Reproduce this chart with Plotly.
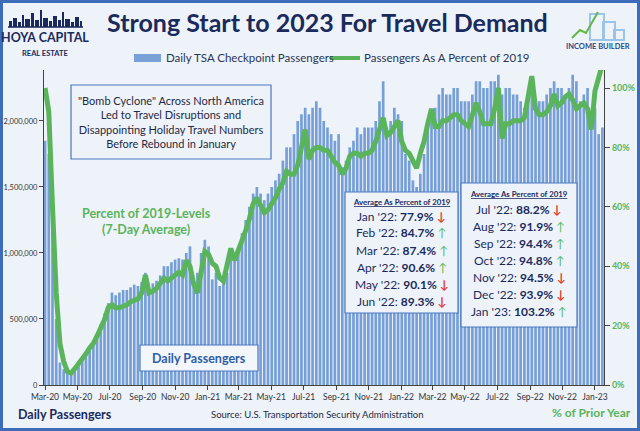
import plotly.graph_objects as go
import pandas as pd

# ---------------- data ----------------
week_dates = pd.date_range("2020-03-01", periods=151, freq="7D")

# Daily TSA checkpoint passengers (weekly readings, thousands)
passengers_k = [
    # 2020 Mar-Dec
    1850, 1750, 1250, 500, 170, 120, 95, 100, 125,
    160, 190, 230, 290, 320,
    380, 460, 540, 620,
    700, 680, 700, 720,
    720, 740, 760, 750, 780,
    850, 730, 770, 790,
    830, 900, 900, 930,
    950, 960, 950, 1000, 1050,
    800, 850, 1000, 1100,
    # 2021
    1050, 800, 850, 750, 800,
    850, 1000, 950, 1050,
    1150, 1250, 1350, 1450,
    1500, 1450, 1400, 1450,
    1500, 1550, 1600, 1700, 1800,
    1800, 1900, 2000, 2050,
    2100, 2050, 2100, 2150,
    2100, 2000, 1950, 1900, 1850,
    1900, 1650, 1700, 1800,
    1850, 1950, 1900, 1950, 1950,
    1950, 2000, 2150, 2300,
    1950, 2000, 2100, 2050,
    # 2022
    2000, 1750, 1700, 1550, 1500,
    1600, 1750, 2000, 2050,
    2100, 2200, 2250, 2200,
    2200, 2250, 2250, 2150,
    2150, 2150, 2200, 2300, 2300,
    2250, 2250, 2300, 2300,
    2350, 2200, 2250, 2250, 2200,
    2200, 2150, 2100, 2150,
    2250, 2100, 2150, 2150,
    2200, 2250, 2300, 2250, 2250,
    2200, 2250, 2350, 2300,
    2150, 2200, 2250, 2050,
    # 2023
    2100, 1900, 1950,
]

# Passengers as a percent of 2019 (7-day average, weekly readings)
pct_of_2019 = [
    # 2020
    100, 92, 60, 31, 14, 8, 4.5, 4, 5.5,
    7, 8.5, 10.5, 12.5, 14,
    16.5, 19, 22, 26,
    27, 26, 26, 26.5,
    27, 28, 28.5, 29, 31,
    37, 31, 31.5, 32.5,
    34, 36, 35, 36,
    37, 38, 37, 42, 40,
    34, 31, 38, 45,
    # 2021
    44, 41, 40, 36, 35,
    41, 46, 42, 45,
    48, 52, 56, 61,
    63, 60, 58, 59,
    61, 63, 66, 68, 72,
    71, 71, 74, 80,
    86, 76, 79, 80,
    80, 79, 79, 77, 75,
    74, 71, 73, 77,
    78, 78, 77, 78, 78,
    79, 82, 86, 90,
    84, 85, 87, 89,
    # 2022
    82, 79, 78, 75, 73,
    78, 82, 88, 93,
    87, 87, 89, 89,
    90, 91, 91, 89,
    88, 87, 91, 95, 92,
    88, 88, 88, 93,
    100, 83, 88, 88, 89,
    89, 89, 90, 98,
    104, 93, 91, 91,
    92, 94, 98, 94, 95,
    97, 98, 96, 93,
    94, 95, 93, 86,
    # 2023
    99, 104, 108,
]

table1_months = ["Jan '22", "Feb '22", "Mar '22", "Apr '22", "May '22", "Jun '22"]
table1_values = [77.9, 84.7, 87.4, 90.6, 90.1, 89.3]
table1_dirs = ["down", "up", "up", "up", "down", "down"]

table2_months = ["Jul '22", "Aug '22", "Sep '22", "Oct '22", "Nov '22", "Dec '22", "Jan '23"]
table2_values = [88.2, 91.9, 94.4, 94.8, 94.5, 93.9, 103.2]
table2_dirs = ["down", "up", "up", "up", "down", "down", "up"]

left_ticks = [0, 500000, 1000000, 1500000, 2000000]
right_ticks = [0, 0.2, 0.4, 0.6, 0.8, 1.0]

# ---------------- styling ----------------
W, H = 640, 431
ML, MR, MT, MB = 44, 36, 70, 46
PW, PH = W - ML - MR, H - MT - MB
BG = "#eef2f9"
NAVY = "#1b2a5c"
BLUE = "#769fd8"
GREEN = "#5ab45b"
BORDER = "#4a78c0"
FONT = "Lato, Roboto, sans-serif"


def px(x):
    return (x - ML) / PW


def py(y):
    return (H - MB - y) / PH


fig = go.Figure()
fig.add_trace(go.Bar(
    x=week_dates, y=[v * 1000 for v in passengers_k],
    marker=dict(color=BLUE, line=dict(width=0)),
    name="Daily TSA Checkpoint Passengers", yaxis="y",
))
fig.add_trace(go.Scatter(
    x=week_dates, y=[p / 100 for p in pct_of_2019],
    mode="lines", line=dict(color=GREEN, width=5),
    name="Passengers As A Percent of 2019", yaxis="y2",
))

shapes = []
annotations = []


def txt(text, x, y, size, color, anchor="center", bold=False, align="center"):
    annotations.append(dict(text=f"<b>{text}</b>" if bold else text,
                            x=px(x), y=py(y), xref="paper", yref="paper",
                            showarrow=False, xanchor=anchor, yanchor="middle",
                            align=align,
                            font=dict(family=FONT, size=size, color=color)))


# outer frame
shapes.append(dict(type="rect", xref="paper", yref="paper",
                   x0=px(1.5), x1=px(638.5), y0=py(1.5), y1=py(429.5),
                   line=dict(color="#3d6cb9", width=3), fillcolor="rgba(0,0,0,0)",
                   layer="above"))

# title
txt("Strong Start to 2023 For Travel Demand", 327, 22, 25, NAVY, bold=True)

# manual legend
shapes.append(dict(type="rect", xref="paper", yref="paper",
                   x0=px(134), x1=px(161), y0=py(62), y1=py(54),
                   fillcolor="#7aa2d8", line=dict(width=0)))
txt("Daily TSA Checkpoint Passengers", 164, 58, 11.5, "#2a3558", anchor="left")
shapes.append(dict(type="line", xref="paper", yref="paper",
                   x0=px(330), x1=px(360), y0=py(58), y1=py(58),
                   line=dict(color=GREEN, width=4)))
txt("Passengers As A Percent of 2019", 362, 58, 11.5, "#2a3558", anchor="left")

# Hoya Capital logo (text + simple skyline)
skyline = [(9, 3, 6), (13, 4, 9), (18, 3, 5), (22, 2, 12), (25, 5, 8), (31, 3, 14),
           (35, 4, 7), (40, 2, 17), (43, 5, 9), (49, 3, 6), (53, 4, 11), (58, 3, 7),
           (62, 2, 15), (65, 5, 8), (71, 3, 5), (75, 4, 10), (80, 2, 6)]
for (bx, bw, bh) in skyline:
    shapes.append(dict(type="rect", xref="paper", yref="paper",
                       x0=px(bx), x1=px(bx + bw), y0=py(27), y1=py(27 - bh),
                       fillcolor=NAVY, line=dict(width=0)))
shapes.append(dict(type="line", xref="paper", yref="paper",
                   x0=px(8), x1=px(83), y0=py(27), y1=py(27),
                   line=dict(color=NAVY, width=1.5)))
txt("HOYA CAPITAL", 45, 38, 12.5, NAVY, bold=True)
txt("REAL ESTATE", 45, 54, 7.5, NAVY, bold=True)

# Income Builder logo
for (bx0, bx1, by0) in [(590, 604, 14), (603, 615, 22), (614, 624, 30)]:
    shapes.append(dict(type="rect", xref="paper", yref="paper",
                       x0=px(bx0), x1=px(bx1), y0=py(40), y1=py(by0),
                       fillcolor="rgba(0,0,0,0)", line=dict(color="#9cc3ea", width=2)))
shapes.append(dict(type="path", xref="paper", yref="paper",
                   path=f"M {px(572)} {py(38)} L {px(580)} {py(30)} L {px(586)} {py(33)} L {px(598)} {py(12)}",
                   line=dict(color="#62b846", width=2)))
txt("INCOME BUILDER", 598, 46, 7.5, "#2c4a86", bold=True)

# Bomb cyclone box
shapes.append(dict(type="rect", xref="paper", yref="paper",
                   x0=px(71), x1=px(271), y0=py(159), y1=py(85),
                   fillcolor=BG, line=dict(color=BORDER, width=1.2)))
annotations.append(dict(
    text='"Bomb Cyclone" Across North America<br>Led to Travel Disruptions and<br>'
         'Disappointing Holiday Travel Numbers<br>Before Rebound in January',
    x=px(171), y=py(122), xref="paper", yref="paper", showarrow=False,
    xanchor="center", yanchor="middle", align="center",
    font=dict(family=FONT, size=11, color="#1f2a44")))

# Percent of 2019-levels label
txt("Percent of 2019-Levels<br>(7-Day Average)", 146, 221, 12.5, GREEN, bold=True)

# Daily passengers box
shapes.append(dict(type="rect", xref="paper", yref="paper",
                   x0=px(140), x1=px(258), y0=py(371), y1=py(345),
                   fillcolor="#f3f6fb", line=dict(color=BORDER, width=1.2)))
txt("Daily Passengers", 199, 358, 12.5, "#2f5da6", bold=True)


def add_table(x0, x1, y0, y1, title_y, first_y, step, months, values, dirs):
    shapes.append(dict(type="rect", xref="paper", yref="paper",
                       x0=px(x0), x1=px(x1), y0=py(y1), y1=py(y0),
                       fillcolor="#eef3fa", line=dict(color=BORDER, width=1.2)))
    cx = (x0 + x1) / 2
    txt("<u>Average As Percent of 2019</u>", cx, title_y, 7.8, NAVY, bold=True)
    for i, (m, v, d) in enumerate(zip(months, values, dirs)):
        arrow = "<span style='color:#e23b2e'><b>↓</b></span>" if d == "down" else \
                "<span style='color:#5cb85c'>↑</span>"
        txt(f"{m}: <b>{v:.1f}%</b> {arrow}", cx, first_y + i * step, 12, NAVY)


add_table(345, 458, 192, 313, 202, 216, 17, table1_months, table1_values, table1_dirs)
add_table(461, 577, 183, 327, 194, 209, 17, table2_months, table2_values, table2_dirs)

# bottom labels
txt("Daily Passengers", 16, 414, 12.5, NAVY, anchor="left", bold=True)
txt("Source: U.S. Transportation Security Administration", 317, 414, 9.5, "#1f2a44")
txt("% of Prior Year", 633, 412, 12, GREEN, anchor="right", bold=True)

fig.update_layout(
    width=W, height=H,
    margin=dict(l=ML, r=MR, t=MT, b=MB, pad=0, autoexpand=False),
    paper_bgcolor=BG, plot_bgcolor=BG,
    showlegend=False, bargap=0.28,
    font=dict(family=FONT, color="#333"),
    xaxis=dict(type="date", range=["2020-02-28", "2023-01-18"], automargin=False,
               tick0="2020-03-01", dtick="M2", tickformat="%b-%y", tickangle=0,
               ticks="outside", ticklen=4, tickcolor="#444",
               showline=True, linecolor="#444", linewidth=1.2,
               showgrid=False, zeroline=False,
               tickfont=dict(family=FONT, size=8.5, color="#333")),
    yaxis=dict(range=[0, 2386000], tickvals=left_ticks, tickformat=",", automargin=False,
               ticks="outside", ticklen=4, tickcolor="#444",
               showline=True, linecolor="#444", linewidth=1.2,
               showgrid=False, zeroline=False,
               tickfont=dict(family=FONT, size=7.5, color="#333")),
    yaxis2=dict(range=[0, 1.0606], tickvals=right_ticks, tickformat=".0%", automargin=False,
                overlaying="y", side="right",
                ticks="outside", ticklen=5, tickcolor="#444",
                showline=True, linecolor="#444", linewidth=1.2,
                showgrid=False, zeroline=False,
                tickfont=dict(family=FONT, size=9, color=GREEN, weight="bold")),
    shapes=shapes, annotations=annotations,
)

fig.write_html("out.html",
               config={"displayModeBar": False},
               post_script="document.body.style.margin='0';"
                           "document.body.style.overflow='hidden';")
